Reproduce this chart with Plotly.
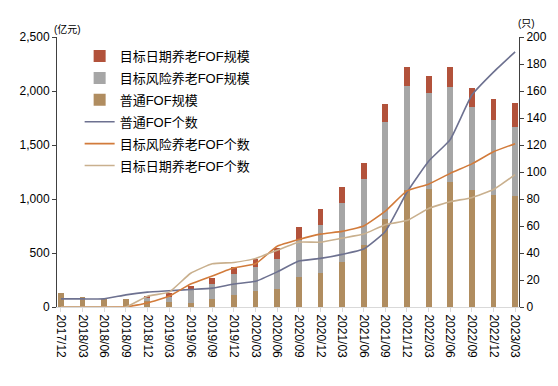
import plotly.graph_objects as go

categories = ["2017/12", "2018/03", "2018/06", "2018/09", "2018/12",
              "2019/03", "2019/06", "2019/09", "2019/12",
              "2020/03", "2020/06", "2020/09", "2020/12",
              "2021/03", "2021/06", "2021/09", "2021/12",
              "2022/03", "2022/06", "2022/09", "2022/12", "2023/03"]

# 规模 (亿元)
general_size = [127, 90, 74, 71, 55, 49, 40, 71, 111, 151, 170, 281, 312,
                421, 575, 815, 1085, 1090, 1160, 1086, 1040, 1025]
risk_size = [0, 0, 0, 0, 30, 41, 117, 139, 195, 222, 271, 343, 447,
             545, 607, 898, 961, 891, 873, 768, 690, 645]
date_size = [0, 0, 0, 0, 10, 37, 37, 60, 67, 71, 102, 117, 144,
             148, 156, 167, 173, 159, 186, 177, 193, 219]

# 个数 (只)
general_cnt = [6, 6, 6, 9, 11, 12, 13, 14, 17, 19, 26, 34, 36,
               39, 43, 56, 85, 108, 124, 157, 174, 189]
risk_cnt = [0, 0, 0, 0, 3, 8, 17, 23, 29, 32, 45, 50, 54,
            56, 60, 71, 86, 91, 99, 106, 115, 121]
date_cnt = [0, 0, 0, 0, 8, 11, 25, 32, 33, 36, 42, 48, 48,
            51, 54, 61, 64, 73, 78, 81, 87, 98]

C_DATE = "#b2523b"
C_RISK = "#a6a6a6"
C_GEN = "#b08d60"
C_GEN_L = "#6d7190"
C_RISK_L = "#d27b3b"
C_DATE_L = "#c9b08e"

FONT = "Liberation Sans, Arial, Noto Sans CJK SC, sans-serif"

fig = go.Figure()
bar_w = 0.27
fig.add_trace(go.Bar(x=categories, y=general_size, name="普通FOF规模",
                     marker=dict(color=C_GEN, line=dict(width=0)),
                     width=bar_w, legendrank=3, legendgroup="c"))
fig.add_trace(go.Bar(x=categories, y=risk_size, name="目标风险养老FOF规模",
                     marker=dict(color=C_RISK, line=dict(width=0)),
                     width=bar_w, legendrank=2, legendgroup="b"))
fig.add_trace(go.Bar(x=categories, y=date_size, name="目标日期养老FOF规模",
                     marker=dict(color=C_DATE, line=dict(width=0)),
                     width=bar_w, legendrank=1, legendgroup="a"))

fig.add_trace(go.Scatter(x=categories, y=general_cnt, name="普通FOF个数",
                         mode="lines", yaxis="y2",
                         line=dict(color=C_GEN_L, width=1.6, shape="spline", smoothing=0.4),
                         legendrank=4, legendgroup="d"))
fig.add_trace(go.Scatter(x=categories, y=risk_cnt, name="目标风险养老FOF个数",
                         mode="lines", yaxis="y2",
                         line=dict(color=C_RISK_L, width=1.6, shape="spline", smoothing=0.4),
                         legendrank=5, legendgroup="e"))
fig.add_trace(go.Scatter(x=categories, y=date_cnt, name="目标日期养老FOF个数",
                         mode="lines", yaxis="y2",
                         line=dict(color=C_DATE_L, width=1.6, shape="spline", smoothing=0.4),
                         legendrank=6, legendgroup="f"))

# page body adds an 8px offset; margins compensate so the plot area sits at x 53-519, y 37-307
fig.update_layout(
    width=558, height=386,
    margin=dict(l=45, r=47, t=29, b=87),
    paper_bgcolor="white", plot_bgcolor="white",
    barmode="stack",
    font=dict(family=FONT, size=12, color="#000000"),
    showlegend=True,
    legend=dict(x=0.049, y=0.985, xanchor="left", yanchor="top",
                traceorder="grouped", tracegroupgap=2,
                bgcolor="rgba(0,0,0,0)", font=dict(size=13, family=FONT)),
    xaxis=dict(type="category", range=[-0.18, 21.18], tickangle=90,
               showline=True, linecolor="#d9d9d9", linewidth=1,
               ticks="outside", ticklen=4, tickcolor="#d9d9d9",
               showgrid=False, tickfont=dict(size=12)),
    yaxis=dict(range=[0, 2500], dtick=500, tickformat=",d",
               showline=True, linecolor="#404040", linewidth=1,
               ticks="outside", ticklen=4, tickcolor="#404040",
               showgrid=False, zeroline=False, tickfont=dict(size=12)),
    yaxis2=dict(range=[0, 200], dtick=20, overlaying="y", side="right",
                showline=True, linecolor="#404040", linewidth=1,
                ticks="outside", ticklen=4, tickcolor="#404040",
                showgrid=False, zeroline=False, tickfont=dict(size=12)),
    annotations=[
        dict(text="(亿元)", xref="paper", yref="paper", x=0.022, y=1.0,
             xanchor="center", yanchor="bottom", yshift=0, showarrow=False,
             font=dict(size=10, family=FONT)),
        dict(text="(只)", xref="paper", yref="paper", x=1.017, y=1.0,
             xanchor="center", yanchor="bottom", yshift=6, showarrow=False,
             font=dict(size=10, family=FONT)),
    ],
)

fig.write_html("out.html")
